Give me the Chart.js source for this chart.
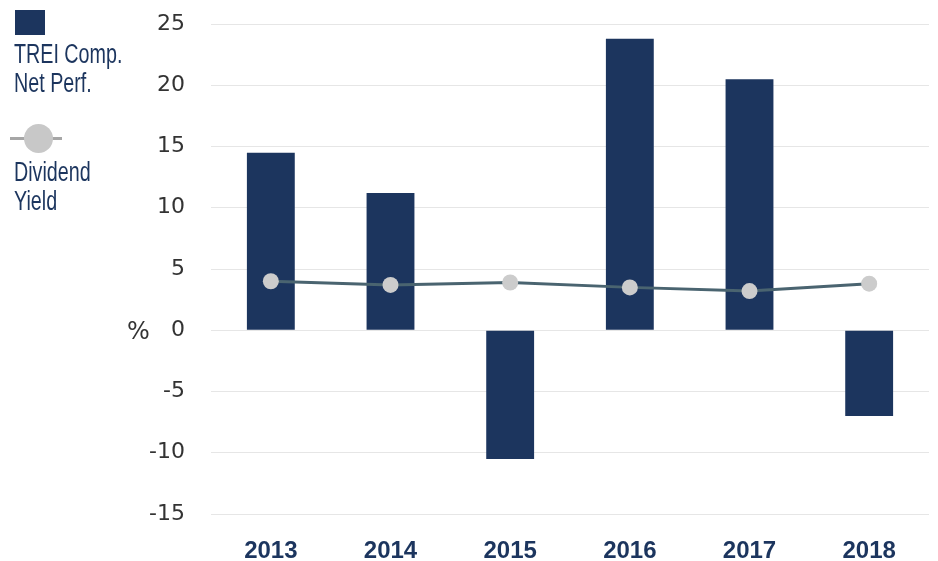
<!DOCTYPE html>
<html>
<head>
<meta charset="utf-8">
<script src="https://cdn.jsdelivr.net/npm/chart.js@4.4.1/dist/chart.umd.min.js"></script>
<style>
    body { margin: 0; background: #fff; }
    #wrap { position: relative; width: 938px; height: 561px; }
    #legend { position: absolute; left: 14px; top: 10px; font-family: "Liberation Sans", sans-serif; font-size: 27px; color: #1c355e; line-height: 29px; }
    .txt { transform: scaleX(0.73); transform-origin: left top; white-space: nowrap; }
    .box { width: 30px; height: 25px; background: #1c355e; margin-left: 1px; margin-bottom: 5px; }
    .sym { position: relative; width: 52px; height: 30px; margin-top: 26px; margin-left: -4px; margin-bottom: 4px; }
    .sym .ln { position: absolute; left: 0; right: 0; top: 13px; height: 3px; background: #a6a6a6; }
    .sym .dot { position: absolute; left: 14px; top: 0; width: 29px; height: 29px; border-radius: 50%; background: #c8c8c8; }
</style>
</head>
<body>
<div id="wrap">
    <canvas id="grafico" width="938" height="561"></canvas>
    <div id="legend">
        <div class="box"></div>
        <div class="txt">TREI Comp.<br>Net Perf.</div>
        <div class="sym"><div class="ln"></div><div class="dot"></div></div>
        <div class="txt">Dividend<br>Yield</div>
    </div>
</div>
<script>
// dados
const anos = ['2013', '2014', '2015', '2016', '2017', '2018'];
const desempenho = [14.5, 11.2, -10.5, 23.8, 20.5, -7.0];
const dividendos = [4.0, 3.7, 3.9, 3.5, 3.2, 3.8];
const ticksY = [25, 20, 15, 10, 5, 0, -5, -10, -15];

const azul = '#1c355e';

// escreve o "%" ao lado do zero
const rotuloPct = {
    id: 'rotuloPct',
    afterDraw(chart) {
        const c = chart.ctx;
        const y = chart.scales.y.getPixelForValue(0);
        c.save();
        c.font = '24px "DejaVu Sans", sans-serif';
        c.fillStyle = '#333';
        c.textBaseline = 'middle';
        c.fillText('%', 127, y + 3);
        c.restore();
    }
};

const ctx = document.getElementById('grafico').getContext('2d');
const grafico = new Chart(ctx, {
    type: 'bar',
    data: {
        labels: anos,
        datasets: [{
            type: 'line',
            label: 'Dividend Yield',
            data: dividendos,
            borderColor: '#4a6470',
            borderWidth: 3,
            pointRadius: 8,
            pointBackgroundColor: '#cccccc',
            pointBorderWidth: 0,
            tension: 0,
            order: 0
        }, {
            label: 'TREI Comp. Net Perf.',
            data: desempenho,
            backgroundColor: azul,
            categoryPercentage: 0.8,
            barPercentage: 0.5,
            order: 1
        }]
    },
    options: {
        responsive: false,
        animation: false,
        layout: { padding: { top: 24, right: 9, left: 0, bottom: 0 } },
        plugins: { legend: { display: false }, tooltip: { enabled: false } },
        scales: {
            x: {
                grid: { display: false },
                border: { display: false },
                ticks: {
                    color: azul,
                    padding: 15,
                    font: { family: '"Liberation Sans", sans-serif', size: 24, weight: 'bold' }
                },
                afterFit(scale) { scale.height = 47; }
            },
            y: {
                min: -15,
                max: 25,
                afterBuildTicks(scale) { scale.ticks = ticksY.map(v => ({ value: v })); },
                grid: { color: '#e6e6e6', drawTicks: false },
                border: { display: false },
                ticks: {
                    color: '#333',
                    padding: 26,
                    font: { family: '"DejaVu Sans", sans-serif', size: 22 }
                },
                afterFit(scale) {
                    scale.width = 211;
                    scale.paddingTop = 0;
                    scale.paddingBottom = 0;
                }
            }
        }
    },
    plugins: [rotuloPct]
});
</script>
</body>
</html>
